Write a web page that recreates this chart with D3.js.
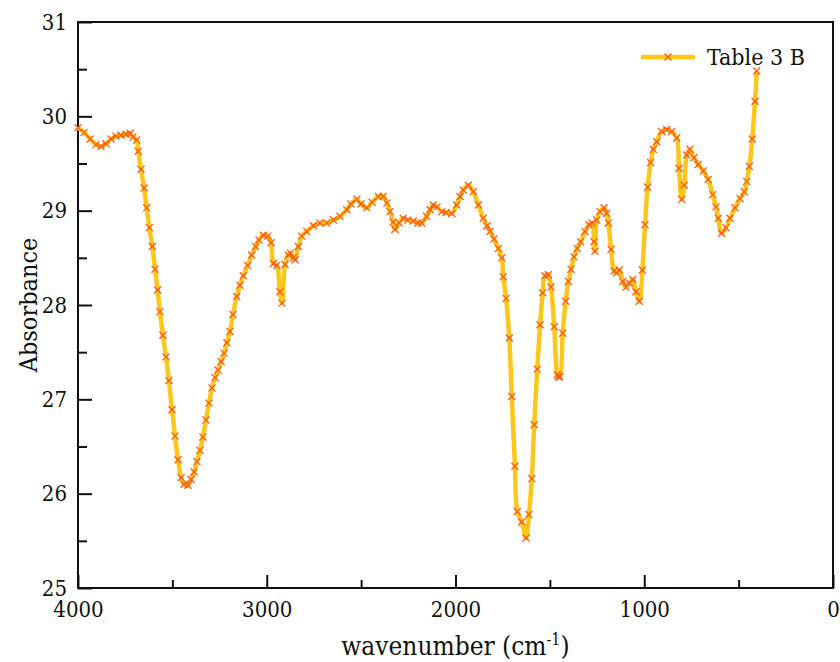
<!DOCTYPE html>
<html>
<head>
<meta charset="utf-8">
<script src="https://cdn.jsdelivr.net/npm/d3@7"></script>
<style>
  body { margin: 0; background: #fff; }
  #chart { width: 840px; height: 662px; }
  svg text { font-family: "DejaVu Serif", serif; font-stretch: condensed; }
</style>
</head>
<body>
<div id="chart"></div>
<script>
// FTIR spectrum
const wavenumber = [
  4000, 3968, 3936, 3905, 3878, 3852, 3825, 3799, 3772, 3746, 3724, 3709, 3689, 3681, 3666,
  3650, 3636, 3622, 3606, 3592, 3578, 3566, 3550, 3534, 3518, 3502, 3486, 3470, 3454, 3438,
  3417, 3401, 3385, 3370, 3354, 3338, 3322, 3306, 3290, 3274, 3258, 3242, 3226, 3211, 3195,
  3179, 3159, 3142, 3124, 3101, 3080, 3059, 3041, 3018, 2995, 2977, 2965, 2947, 2930, 2919,
  2903, 2886, 2874, 2859, 2850, 2833, 2815, 2788, 2753, 2718, 2682, 2647, 2612, 2576, 2554,
  2523, 2501, 2470, 2442, 2409, 2382, 2363, 2347, 2331, 2321, 2299, 2277, 2252, 2224, 2199,
  2179, 2153, 2135, 2118, 2098, 2073, 2050, 2020, 1994, 1976, 1959, 1932, 1906, 1879, 1853,
  1833, 1817, 1796, 1773, 1755, 1747, 1732, 1715, 1702, 1685, 1673, 1649, 1626, 1611, 1596,
  1583, 1567, 1552, 1538, 1526, 1508, 1494, 1477, 1461, 1455, 1447, 1432, 1416, 1402, 1388,
  1372, 1355, 1337, 1314, 1293, 1277, 1266, 1261, 1252, 1234, 1213, 1199, 1190, 1176, 1160,
  1146, 1132, 1114, 1097, 1079, 1061, 1044, 1026, 1010, 996, 982, 966, 952, 934, 908,
  881, 855, 828, 816, 802, 788, 775, 758, 737, 714, 687, 661, 637, 620, 608,
  590, 567, 546, 519, 493, 470, 457, 443, 428, 413, 404
];
const absorbance = [
  29.88, 29.83, 29.76, 29.70, 29.68, 29.71, 29.76, 29.79, 29.80, 29.81, 29.82, 29.78, 29.75, 29.63, 29.44,
  29.24, 29.03, 28.82, 28.62, 28.38, 28.16, 27.93, 27.68, 27.45, 27.20, 26.89, 26.61, 26.36, 26.17, 26.10,
  26.09, 26.15, 26.23, 26.34, 26.46, 26.60, 26.78, 26.96, 27.12, 27.23, 27.31, 27.40, 27.49, 27.60, 27.72,
  27.90, 28.09, 28.21, 28.31, 28.42, 28.53, 28.62, 28.69, 28.74, 28.73, 28.66, 28.44, 28.42, 28.14, 28.02,
  28.43, 28.53, 28.55, 28.50, 28.48, 28.62, 28.73, 28.78, 28.84, 28.87, 28.87, 28.90, 28.94, 29.01, 29.07,
  29.12, 29.07, 29.03, 29.09, 29.15, 29.15, 29.08, 28.99, 28.88, 28.80, 28.87, 28.92, 28.90, 28.89, 28.87,
  28.87, 28.94, 29.01, 29.06, 29.04, 28.99, 28.98, 28.97, 29.06, 29.15, 29.22, 29.27, 29.20, 29.06, 28.92,
  28.84, 28.78, 28.70, 28.60, 28.50, 28.30, 28.07, 27.65, 27.03, 26.29, 25.81, 25.70, 25.53, 25.78, 26.16,
  26.73, 27.32, 27.79, 28.13, 28.31, 28.32, 28.19, 27.77, 27.26, 27.24, 27.24, 27.70, 28.04, 28.25, 28.38,
  28.51, 28.60, 28.67, 28.78, 28.85, 28.87, 28.67, 28.57, 28.90, 28.99, 29.03, 28.97, 28.87, 28.59, 28.36,
  28.34, 28.37, 28.25, 28.19, 28.23, 28.27, 28.14, 28.04, 28.37, 28.85, 29.25, 29.51, 29.65, 29.73, 29.84,
  29.86, 29.84, 29.77, 29.45, 29.12, 29.27, 29.59, 29.65, 29.56, 29.49, 29.42, 29.33, 29.17, 29.04, 28.92,
  28.76, 28.82, 28.92, 29.03, 29.13, 29.20, 29.31, 29.47, 29.76, 30.16, 30.48
];
const seriesName = "Table 3 B";
const xMajor = [4000, 3000, 2000, 1000, 0];
const xMinor = [3500, 2500, 1500, 500];
const yMajor = [25, 26, 27, 28, 29, 30, 31];
const yMinor = [25.5, 26.5, 27.5, 28.5, 29.5, 30.5];

const data = wavenumber.map((w, i) => ({ w: w, a: absorbance[i] }));

const width = 840, height = 662;
const margin = { top: 22, right: 7, bottom: 74, left: 78 };
const innerW = width - margin.left - margin.right;
const innerH = height - margin.top - margin.bottom;

const lineColor = "#FFC61A";
const markColor = "#FF5A14";

const svg = d3.select("#chart").append("svg")
  .attr("width", width)
  .attr("height", height);

const g = svg.append("g")
  .attr("transform", "translate(" + margin.left + "," + margin.top + ")");

const x = d3.scaleLinear().domain([4000, 0]).range([0, innerW]);
const y = d3.scaleLinear().domain([25, 31]).range([innerH, 0]);

// axes with inward ticks
g.append("g")
  .attr("transform", "translate(0," + innerH + ")")
  .call(d3.axisBottom(x).tickValues(xMajor).tickSize(-13).tickPadding(13).tickFormat(d3.format("d")));
g.append("g")
  .attr("transform", "translate(0," + innerH + ")")
  .call(d3.axisBottom(x).tickValues(xMinor).tickSize(-8).tickFormat(""));

g.append("g")
  .call(d3.axisLeft(y).tickValues(yMajor).tickSize(-14).tickPadding(11).tickFormat(d3.format("d")));
g.append("g")
  .call(d3.axisLeft(y).tickValues(yMinor).tickSize(-9).tickFormat(""));

g.selectAll(".domain").remove();
g.selectAll(".tick line").attr("stroke", "#111").attr("stroke-width", 2);
g.selectAll(".tick text")
  .attr("font-size", 22)
  .attr("fill", "#111");

// frame
g.append("rect")
  .attr("x", 0).attr("y", 0)
  .attr("width", innerW).attr("height", innerH)
  .attr("fill", "none")
  .attr("stroke", "#111")
  .attr("stroke-width", 2);

// spectrum line
const line = d3.line()
  .x(d => x(d.w))
  .y(d => y(d.a))
  .curve(d3.curveCatmullRom.alpha(0.5));

g.append("path")
  .datum(data)
  .attr("fill", "none")
  .attr("stroke", lineColor)
  .attr("stroke-width", 4.5)
  .attr("stroke-linejoin", "round")
  .attr("d", line);

const mark = d3.symbol().type(d3.symbolX).size(34);
g.selectAll(".mk")
  .data(data)
  .join("path")
  .attr("class", "mk")
  .attr("transform", d => "translate(" + x(d.w) + "," + y(d.a) + ")")
  .attr("d", mark)
  .attr("fill", "none")
  .attr("stroke", markColor)
  .attr("stroke-width", 1.3);

// legend
const lg = svg.append("g").attr("transform", "translate(641,57)");
lg.append("line")
  .attr("x1", 0).attr("x2", 54).attr("y1", 0).attr("y2", 0)
  .attr("stroke", lineColor).attr("stroke-width", 4.5);
lg.append("path")
  .attr("transform", "translate(27,0)")
  .attr("d", mark)
  .attr("fill", "none")
  .attr("stroke", markColor)
  .attr("stroke-width", 1.3);
lg.append("text")
  .attr("x", 66).attr("y", 8)
  .attr("fill", "#111")
  .attr("font-size", 23)
  .text(seriesName);

// axis titles
const xt = svg.append("text")
  .attr("x", margin.left + innerW / 2)
  .attr("y", 655)
  .attr("text-anchor", "middle")
  .attr("fill", "#111")
  .attr("font-size", 26);
xt.append("tspan").text("wavenumber (cm");
xt.append("tspan").attr("dy", -10).attr("font-size", 16).text("-1");
xt.append("tspan").attr("dy", 10).text(")");

svg.append("text")
  .attr("transform", "translate(37," + (margin.top + innerH / 2) + ") rotate(-90)")
  .attr("text-anchor", "middle")
  .attr("fill", "#111")
  .attr("font-size", 25)
  .text("Absorbance");
</script>
</body>
</html>
